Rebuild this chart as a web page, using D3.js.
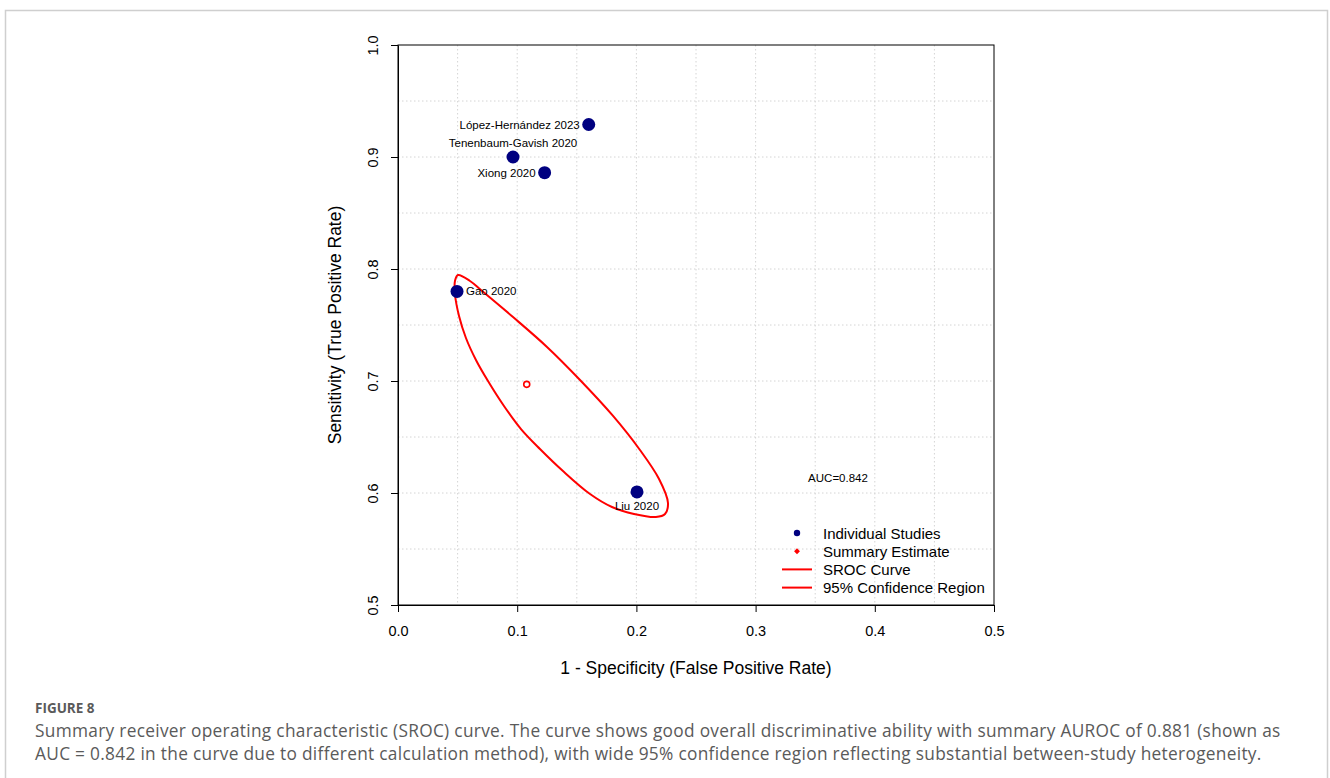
<!DOCTYPE html>
<html>
<head>
<meta charset="utf-8">
<script src="https://d3js.org/d3.v7.min.js"></script>
<style>
  body { margin: 0; background: #fff; }
  .grid line { stroke: #d4d4d4; stroke-width: 1; stroke-dasharray: 1.5,2.5; }
  .axis text { font-family: "Liberation Sans", Arial, sans-serif; font-size: 14.5px; fill: #000; }
  .axis path, .axis line { stroke: #000; }
  .caption { font-family: "Open Sans", Lato, sans-serif; fill: #5a5a5a; }
</style>
</head>
<body>
<svg width="1330" height="778"></svg>
<script>
// individual studies (1 - specificity, sensitivity)
var studies = ["López-Hernández 2023", "Tenenbaum-Gavish 2020", "Xiong 2020", "Gao 2020", "Liu 2020"];
var studyFpr = [0.160, 0.0965, 0.123, 0.0495, 0.2005];
var studyTpr = [0.929, 0.900, 0.886, 0.780, 0.601];
var labelSide = ["left", "top", "left", "right", "bottom"];

// summary estimate
var summaryFpr = 0.108, summaryTpr = 0.697;

// 95% confidence region (clockwise from the top tip)
var regionFpr = [0.0503, 0.0604, 0.0696, 0.0965, 0.1250, 0.1527, 0.1804, 0.2030, 0.2190, 0.2265, 0.2240, 0.2164,
                 0.1980, 0.1795, 0.1611, 0.1384, 0.1191, 0.1032, 0.0889, 0.0755, 0.0654, 0.0570, 0.0512, 0.0478, 0.0478];
var regionTpr = [0.7946, 0.7893, 0.7813, 0.7571, 0.7304, 0.7009, 0.6688, 0.6384, 0.6125, 0.5911, 0.5813, 0.5786,
                 0.5813, 0.5875, 0.5991, 0.6196, 0.6393, 0.6571, 0.6777, 0.7000, 0.7188, 0.7384, 0.7580, 0.7777, 0.7893];

var aucText = "AUC=0.842";
var xTicks = [0, 0.1, 0.2, 0.3, 0.4, 0.5];
var yTicks = [0.5, 0.6, 0.7, 0.8, 0.9, 1.0];
var gridX = [0.05, 0.1, 0.15, 0.2, 0.25, 0.3, 0.35, 0.4, 0.45];
var gridY = [0.55, 0.6, 0.65, 0.7, 0.75, 0.8, 0.85, 0.9, 0.95];
var legendLabels = ["Individual Studies", "Summary Estimate", "SROC Curve", "95% Confidence Region"];

var captionHead = "FIGURE 8";
var captionLines = [
  "Summary receiver operating characteristic (SROC) curve. The curve shows good overall discriminative ability with summary AUROC of 0.881 (shown as",
  "AUC = 0.842 in the curve due to different calculation method), with wide 95% confidence region reflecting substantial between-study heterogeneity."
];

var navy = "#000080", red = "#ff0000";
var pLeft = 398, pRight = 994, pTop = 45, pBottom = 605;
var font = "'Liberation Sans', Arial, sans-serif";

var svg = d3.select("svg");

// outer frame of the figure
svg.append("rect")
  .attr("x", 5.5).attr("y", 10.5)
  .attr("width", 1322).attr("height", 820)
  .attr("fill", "none").attr("stroke", "#cfcfcf").attr("stroke-width", 1.5);

var x = d3.scaleLinear().domain([0, 0.5]).range([pLeft, pRight]);
var y = d3.scaleLinear().domain([0.5, 1]).range([pBottom, pTop]);

// dotted grid
var grid = svg.append("g").attr("class", "grid");
grid.selectAll(".gx").data(gridX).enter().append("line")
  .attr("x1", function(d){ return x(d); }).attr("x2", function(d){ return x(d); })
  .attr("y1", pTop).attr("y2", pBottom);
grid.selectAll(".gy").data(gridY).enter().append("line")
  .attr("y1", function(d){ return y(d); }).attr("y2", function(d){ return y(d); })
  .attr("x1", pLeft).attr("x2", pRight);

// box
svg.append("rect")
  .attr("x", pLeft).attr("y", pTop)
  .attr("width", pRight - pLeft).attr("height", pBottom - pTop)
  .attr("fill", "none").attr("stroke", "#000").attr("stroke-width", 1);

// axes
svg.append("g").attr("class", "axis")
  .attr("transform", "translate(0," + pBottom + ")")
  .call(d3.axisBottom(x).tickValues(xTicks).tickFormat(d3.format(".1f")).tickSize(7).tickSizeOuter(0).tickPadding(14));

var gy = svg.append("g").attr("class", "axis")
  .attr("transform", "translate(" + pLeft + ",0)")
  .call(d3.axisLeft(y).tickValues(yTicks).tickFormat(d3.format(".1f")).tickSize(7).tickSizeOuter(0));
gy.selectAll(".tick text")
  .attr("transform", "rotate(-90)")
  .attr("text-anchor", "middle")
  .attr("x", 0).attr("y", -20).attr("dy", 0);
svg.selectAll(".axis").attr("font-family", null).attr("font-size", null);

// axis titles
svg.append("text")
  .attr("x", (pLeft + pRight) / 2).attr("y", 674)
  .attr("text-anchor", "middle")
  .style("font-family", font).style("font-size", "17.5px")
  .text("1 - Specificity (False Positive Rate)");
svg.append("text")
  .attr("transform", "translate(341," + ((pTop + pBottom) / 2) + ") rotate(-90)")
  .attr("text-anchor", "middle")
  .style("font-family", font).style("font-size", "17.5px")
  .text("Sensitivity (True Positive Rate)");

// confidence region
var region = regionFpr.map(function(d, i){ return [d, regionTpr[i]]; });
svg.append("path")
  .datum(region)
  .attr("d", d3.line().x(function(d){ return x(d[0]); }).y(function(d){ return y(d[1]); }).curve(d3.curveCatmullRomClosed))
  .attr("fill", "none").attr("stroke", red).attr("stroke-width", 2);

// studies
var pts = studies.map(function(s, i){ return {name: s, fx: studyFpr[i], ty: studyTpr[i], side: labelSide[i]}; });
svg.selectAll(".study").data(pts).enter().append("circle")
  .attr("cx", function(d){ return x(d.fx); })
  .attr("cy", function(d){ return y(d.ty); })
  .attr("r", 6.5).attr("fill", navy);

svg.selectAll(".slabel").data(pts).enter().append("text")
  .style("font-family", font).style("font-size", "11.5px")
  .attr("x", function(d){
    var px = x(d.fx);
    if (d.side == "left") return px - 9;
    if (d.side == "right") return px + 9;
    return px;
  })
  .attr("y", function(d){
    var py = y(d.ty);
    if (d.side == "top") return py - 10;
    if (d.side == "bottom") return py + 18;
    return py + 4;
  })
  .attr("text-anchor", function(d){
    if (d.side == "left") return "end";
    if (d.side == "right") return "start";
    return "middle";
  })
  .text(function(d){ return d.name; });

// summary estimate
svg.append("circle")
  .attr("cx", x(summaryFpr)).attr("cy", y(summaryTpr))
  .attr("r", 3).attr("fill", "none").attr("stroke", red).attr("stroke-width", 1.6);

// AUC
svg.append("text")
  .attr("x", 838).attr("y", 482).attr("text-anchor", "middle")
  .style("font-family", font).style("font-size", "11.5px")
  .text(aucText);

// legend
var leg = svg.append("g").attr("transform", "translate(797,533)");
var rowH = 18.2;
leg.append("circle").attr("cx", 0).attr("cy", 0).attr("r", 3.2).attr("fill", navy);
leg.append("path").attr("d", d3.symbol().type(d3.symbolDiamond2).size(22)()).attr("transform", "translate(0," + rowH + ")").attr("fill", red);
leg.append("line").attr("x1", -15).attr("x2", 15).attr("y1", rowH * 2).attr("y2", rowH * 2).attr("stroke", red).attr("stroke-width", 2);
leg.append("line").attr("x1", -15).attr("x2", 15).attr("y1", rowH * 3).attr("y2", rowH * 3).attr("stroke", red).attr("stroke-width", 2);
leg.selectAll(".ltext").data(legendLabels).enter().append("text")
  .attr("x", 26).attr("y", function(d, i){ return i * rowH + 5.5; })
  .style("font-family", font).style("font-size", "15px")
  .text(function(d){ return d; });

// caption
svg.append("text").attr("class", "caption")
  .attr("x", 35).attr("y", 713)
  .style("font-size", "13.5px").style("font-weight", "bold")
  .text(captionHead);
svg.selectAll(".capline").data(captionLines).enter().append("text").attr("class", "caption")
  .attr("x", 35).attr("y", function(d, i){ return 737 + i * 23; })
  .style("font-size", "17.3px").style("letter-spacing", "0.3px")
  .text(function(d){ return d; });
</script>
</body>
</html>
